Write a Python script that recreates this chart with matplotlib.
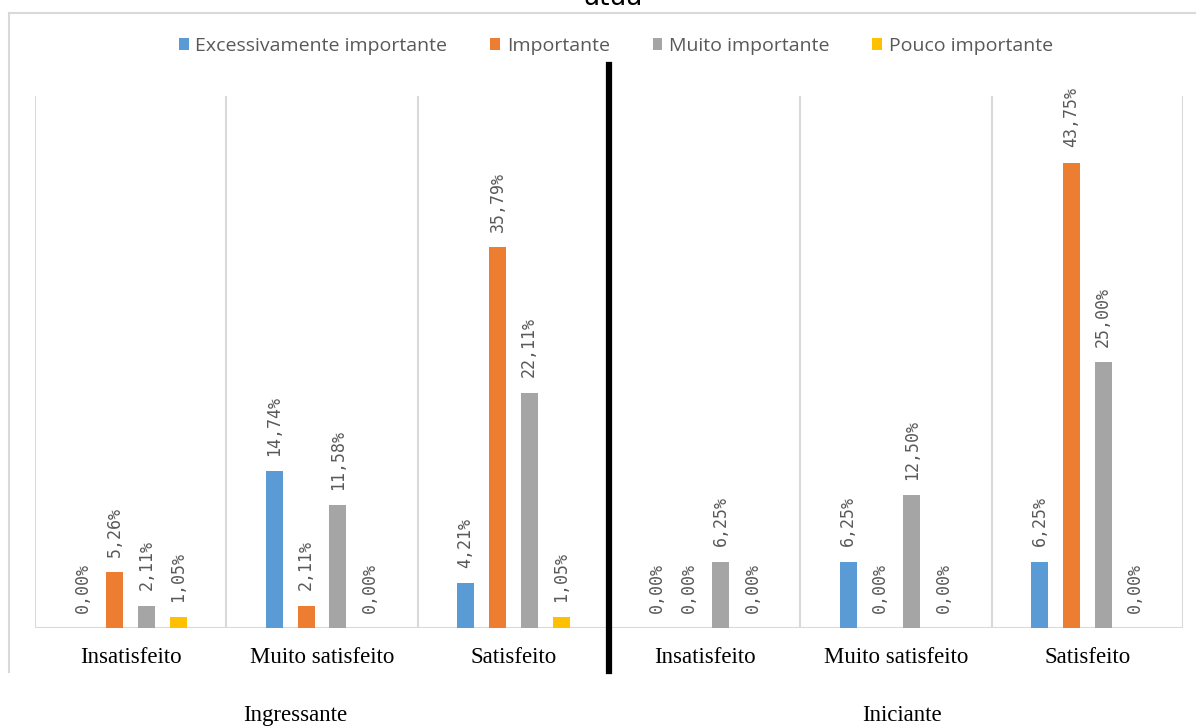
import numpy as np
import matplotlib
matplotlib.use("Agg")
import matplotlib.pyplot as plt
from matplotlib.patches import Patch
from matplotlib.lines import Line2D
import matplotlib.transforms as mtransforms

# data
categories = ["Insatisfeito", "Muito satisfeito", "Satisfeito",
              "Insatisfeito", "Muito satisfeito", "Satisfeito"]
groups = ["Ingressante", "Iniciante"]
series_names = ["Excessivamente importante", "Importante",
                "Muito importante", "Pouco importante"]
excessivamente = [0.00, 14.74, 4.21, 0.00, 6.25, 6.25]
importante = [5.26, 2.11, 35.79, 0.00, 0.00, 43.75]
muito = [2.11, 11.58, 22.11, 6.25, 12.50, 25.00]
pouco = [1.05, 0.00, 1.05, 0.00, 0.00, 0.00]

colors = ["#5B9BD5", "#ED7D31", "#A5A5A5", "#FFC000"]
grid_c = "#D9D9D9"
label_c = "#595959"

W, H = 1196, 727
fig = plt.figure(figsize=(W / 100, H / 100), dpi=100)
ax = fig.add_axes([35 / W, (H - 628) / H, (1183 - 35) / W, (628 - 96) / H])

x = np.arange(len(categories))
offsets = [-0.25, -0.083, 0.083, 0.25]
bar_w = 0.09
all_series = [excessivamente, importante, muito, pouco]

for vals, off, c in zip(all_series, offsets, colors):
    bars = ax.bar(x + off, vals, width=bar_w, color=c, zorder=3)
    for b, v in zip(bars, vals):
        ax.annotate(f"{v:.2f}%".replace(".", ","),
                    (b.get_x() + b.get_width() / 2, v),
                    xytext=(0, 11), textcoords="offset points",
                    rotation=90, ha="center", va="bottom",
                    fontsize=12, color=label_c, family="DejaVu Sans Mono")

ax.set_xlim(-0.5, len(categories) - 0.5)
ax.set_ylim(0, 50)
for s in ax.spines.values():
    s.set_visible(False)
ax.set_yticks([])
ax.set_xticks([])
# group separators
for b in np.arange(-0.5, len(categories), 1.0):
    ax.axvline(b, color=grid_c, lw=1.5, zorder=1)
ax.axhline(0, color=grid_c, lw=1.5, zorder=2)

# category labels
for xi, cat in zip(x, categories):
    ax.text(xi, -2.8, cat, ha="center", va="center", fontsize=16.5,
            family="Liberation Serif", color="black")
ax.text(0.86, -8.2, groups[0], ha="center", va="center", fontsize=16.5,
        family="Liberation Serif", color="black", clip_on=False)
ax.text(4.03, -8.2, groups[1], ha="center", va="center", fontsize=16.5,
        family="Liberation Serif", color="black", clip_on=False)

# thick black divider between the two groups
trans = mtransforms.blended_transform_factory(ax.transData, fig.transFigure)
fig.add_artist(Line2D([2.5, 2.5], [(H - 65) / H, (H - 671) / H],
                      transform=trans, color="black", lw=4.5))

# chart area frame (cropped)
fig.add_artist(Line2D([9 / W, 1], [(H - 13) / H, (H - 13) / H],
                      transform=fig.transFigure, color=grid_c, lw=1.5))
fig.add_artist(Line2D([9 / W, 9 / W], [(H - 13) / H, (H - 672) / H],
                      transform=fig.transFigure, color=grid_c, lw=1.5))

# cut-off title (only the lower part shows in the reference)
fig.text(613 / W, 1 - 5 / H, "atua", ha="center", va="baseline",
         fontsize=19, color="black")

handles = [Patch(facecolor=c, edgecolor="none") for c in colors]
leg = fig.legend(handles, series_names, loc="center", ncol=4,
                 bbox_to_anchor=(616 / W, 1 - 46 / H), frameon=False,
                 handlelength=0.5, handleheight=0.6,
                 handletextpad=0.35, columnspacing=2.2,
                 prop={"family": "Open Sans", "size": 14})
for t in leg.get_texts():
    t.set_color(label_c)

fig.savefig("out.png", dpi=100, facecolor="white")
